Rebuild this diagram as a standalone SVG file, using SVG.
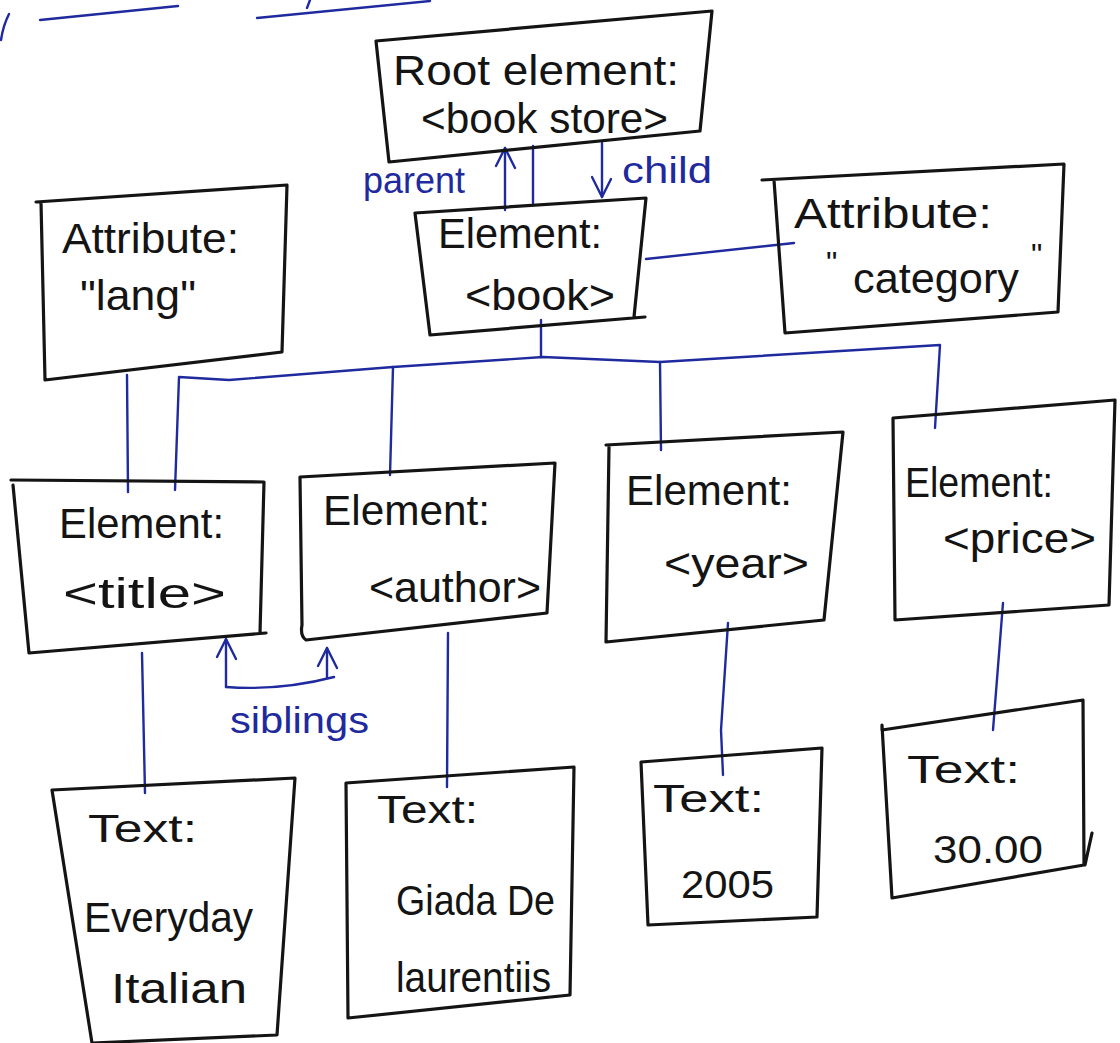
<svg xmlns="http://www.w3.org/2000/svg" width="1120" height="1043" viewBox="0 0 1120 1043">
<style>
.box{fill:none;stroke:#141414;stroke-width:3.2;stroke-linejoin:round;stroke-linecap:round}
.t{font-family:"Liberation Sans","DejaVu Sans",sans-serif;font-size:42px;fill:#141414}
.s{font-size:38px}
.q{font-size:32px}
.lk{fill:none;stroke:#1f2a9e;stroke-width:2.4;stroke-linecap:round;stroke-linejoin:round}
.bl{font-family:"Liberation Sans","DejaVu Sans",sans-serif;font-size:36px;fill:#1f2a9e}
</style>
<defs>
<marker id="arr" markerUnits="userSpaceOnUse" markerWidth="40" markerHeight="40" refX="0" refY="0" orient="auto" overflow="visible">
<path d="M-18,-9 L0,0 L-20,10" fill="none" stroke="#1f2a9e" stroke-width="2.4" stroke-linecap="round" stroke-linejoin="round"/>
</marker>
</defs>
<rect width="1120" height="1043" fill="#ffffff"/>
<g id="scribbles" class="lk">
<path d="M1,40 Q3,26 9,14"/>
<path d="M40,20 L178,6"/>
<path d="M257,18 L430,1"/>
<path d="M307,8 L310,0"/>
</g>
<g id="connectors">
<path class="lk" d="M505,210 L505,148" marker-end="url(#arr)"/>
<path class="lk" d="M533,146 L533,203"/>
<path class="lk" d="M602,143 L602,197" marker-end="url(#arr)"/>
<path class="lk" d="M646,259 L794,243"/>
<path class="lk" d="M541,320 L541,357"/>
<path class="lk" d="M175,490 L179,377 L229,380 L393,367 L543,357 L660,362 L940,345 L935,428"/>
<path class="lk" d="M393,367 L390,475"/>
<path class="lk" d="M660,362 L661,450"/>
<path class="lk" d="M127,375 L128,492"/>
<path class="lk" d="M142,653 L145,793"/>
<path class="lk" d="M448,633 L447,787"/>
<path class="lk" d="M728,623 L721,730 L723,775"/>
<path class="lk" d="M1003,603 L993,730"/>
<path class="lk" d="M226,687 L226,639" marker-end="url(#arr)"/>
<path class="lk" d="M327,678 L327,648" marker-end="url(#arr)"/>
<path class="lk" d="M226,687 Q280,691 334,677"/>
<text class="bl" x="363" y="193" textLength="102" lengthAdjust="spacingAndGlyphs">parent</text>
<text class="bl" x="622" y="183" textLength="90" lengthAdjust="spacingAndGlyphs">child</text>
<text class="bl" x="230" y="733" textLength="139" lengthAdjust="spacingAndGlyphs">siblings</text>
</g>
<g id="root">
<path class="box" d="M376,41 L712,11 L700,131 L389,162 Z"/>
<text class="t" x="393" y="85" textLength="286" lengthAdjust="spacingAndGlyphs">Root element:</text>
<text class="t" x="421" y="133" textLength="247" lengthAdjust="spacingAndGlyphs">&lt;book store&gt;</text>
</g>
<g id="book">
<path class="box" d="M415,213 L646,198 L634,317 M645,317 L430,335 L415,213"/>
<text class="t" x="438" y="248" textLength="164" lengthAdjust="spacingAndGlyphs">Element:</text>
<text class="t" x="465" y="310" textLength="150" lengthAdjust="spacingAndGlyphs">&lt;book&gt;</text>
</g>
<g id="attr-lang">
<path class="box" d="M36,202 L287,185 L282,352 L45,380 L41,202"/>
<text class="t" x="62" y="253" textLength="177" lengthAdjust="spacingAndGlyphs">Attribute:</text>
<text class="t" x="80" y="310" textLength="116" lengthAdjust="spacingAndGlyphs">"lang"</text>
</g>
<g id="attr-category">
<path class="box" d="M762,180 L1064,164 L1058,312 L785,333 L774,180"/>
<text class="t" x="794" y="228" textLength="198" lengthAdjust="spacingAndGlyphs">Attribute:</text>
<text class="t q" x="826" y="274">"</text>
<text class="t" x="853" y="293" textLength="166" lengthAdjust="spacingAndGlyphs">category</text>
<text class="t q" x="1031" y="266">"</text>
</g>
<g id="title">
<path class="box" d="M11,480 L264,482 L260,633 M266,633 L29,653 L13,485"/>
<text class="t" x="59" y="538" textLength="165" lengthAdjust="spacingAndGlyphs">Element:</text>
<text class="t" x="63" y="608" textLength="163" lengthAdjust="spacingAndGlyphs">&lt;title&gt;</text>
</g>
<g id="author">
<path class="box" d="M300,477 L555,463 L547,613 L306,640 Q300,636 302,625 Z"/>
<text class="t" x="323" y="525" textLength="167" lengthAdjust="spacingAndGlyphs">Element:</text>
<text class="t" x="369" y="602" textLength="172" lengthAdjust="spacingAndGlyphs">&lt;author&gt;</text>
</g>
<g id="year">
<path class="box" d="M606,445 L843,432 L824,620 L606,642 L609,447"/>
<text class="t" x="626" y="505" textLength="166" lengthAdjust="spacingAndGlyphs">Element:</text>
<text class="t" x="664" y="578" textLength="145" lengthAdjust="spacingAndGlyphs">&lt;year&gt;</text>
</g>
<g id="price">
<path class="box" d="M893,418 L1115,400 L1109,605 L895,620 Z"/>
<text class="t" x="905" y="497" textLength="148" lengthAdjust="spacingAndGlyphs">Element:</text>
<text class="t" x="943" y="553" textLength="153" lengthAdjust="spacingAndGlyphs">&lt;price&gt;</text>
</g>
<g id="text-title">
<path class="box" d="M52,790 L295,778 L277,1035 L92,1043 Z"/>
<text class="t s" x="88" y="842" textLength="109" lengthAdjust="spacingAndGlyphs">Text:</text>
<text class="t" x="84" y="932" textLength="169" lengthAdjust="spacingAndGlyphs">Everyday</text>
<text class="t" x="111" y="1003" textLength="136" lengthAdjust="spacingAndGlyphs">Italian</text>
</g>
<g id="text-author">
<path class="box" d="M346,783 L574,767 L570,995 L348,1018 Z"/>
<text class="t s" x="377" y="823" textLength="101" lengthAdjust="spacingAndGlyphs">Text:</text>
<text class="t" x="396" y="915" textLength="159" lengthAdjust="spacingAndGlyphs">Giada De</text>
<text class="t" x="396" y="992" textLength="155" lengthAdjust="spacingAndGlyphs">laurentiis</text>
</g>
<g id="text-year">
<path class="box" d="M641,762 L822,748 L817,917 L648,925 Z"/>
<text class="t s" x="653" y="812" textLength="111" lengthAdjust="spacingAndGlyphs">Text:</text>
<text class="t s" x="681" y="898" textLength="93" lengthAdjust="spacingAndGlyphs">2005</text>
</g>
<g id="text-price">
<path class="box" d="M882,725 L882,730 L1083,700 L1084,865 L892,898 Z M1092,833 L1085,865"/>
<text class="t s" x="907" y="783" textLength="113" lengthAdjust="spacingAndGlyphs">Text:</text>
<text class="t s" x="933" y="863" textLength="110" lengthAdjust="spacingAndGlyphs">30.00</text>
</g>
</svg>
